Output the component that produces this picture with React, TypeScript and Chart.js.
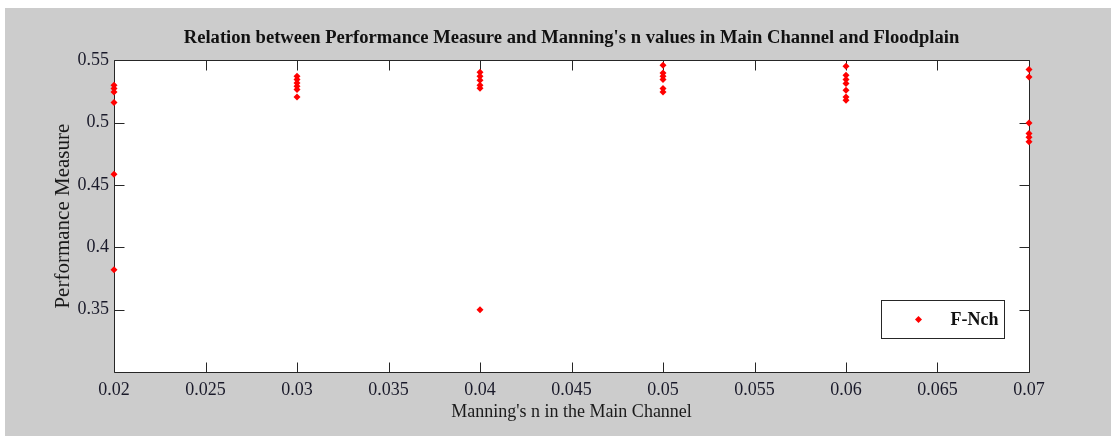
import React, { useEffect, useRef } from "react";
import { Chart, registerables } from "chart.js";

Chart.register(...registerables);

// Manning's n in the main channel (x categories)
const channelN = [0.02, 0.03, 0.04, 0.05, 0.06, 0.07];

// Performance measure values observed at each n
const perfAt002 = [0.53, 0.5274, 0.5246, 0.5162, 0.4586, 0.382];
const perfAt003 = [0.5372, 0.5346, 0.5318, 0.5292, 0.5266, 0.5206];
const perfAt004 = [0.5404, 0.5372, 0.534, 0.53, 0.5276, 0.35];
const perfAt005 = [0.546, 0.5398, 0.5372, 0.5346, 0.5274, 0.5246];
const perfAt006 = [0.5452, 0.538, 0.5346, 0.5314, 0.526, 0.5206, 0.518];
const perfAt007 = [0.5426, 0.5366, 0.4998, 0.4914, 0.4882, 0.4846];

const perfGroups = [perfAt002, perfAt003, perfAt004, perfAt005, perfAt006, perfAt007];

const seriesLabel = "F-Nch";
const chartTitle =
  "Relation between Performance Measure and Manning's n values in Main Channel and Floodplain";
const xTitle = "Manning's n in the Main Channel";
const yTitle = "Performance Measure";

const SERIF = '"Liberation Serif", "Times New Roman", serif';

const framePlugin = {
  id: "matlabFrame",
  beforeDatasetsDraw(chart: any) {
    const { ctx, chartArea, scales } = chart;
    const { left, right, top, bottom } = chartArea;
    const L = Math.round(left) + 0.5;
    const R = Math.round(right) + 0.5;
    const T = Math.round(top) + 0.5;
    const B = Math.round(bottom) + 0.5;
    ctx.save();
    ctx.fillStyle = "#ffffff";
    ctx.fillRect(L, T, R - L, B - T);
    ctx.strokeStyle = "#262626";
    ctx.lineWidth = 1;
    ctx.beginPath();
    ctx.rect(L, T, R - L, B - T);
    ctx.stroke();
    const tl = 10;
    ctx.beginPath();
    for (const t of scales.x.ticks) {
      const px = Math.round(scales.x.getPixelForValue(t.value)) + 0.5;
      ctx.moveTo(px, B);
      ctx.lineTo(px, B - tl);
      ctx.moveTo(px, T);
      ctx.lineTo(px, T + tl);
    }
    for (const t of scales.y.ticks) {
      const py = Math.round(scales.y.getPixelForValue(t.value)) + 0.5;
      ctx.moveTo(L, py);
      ctx.lineTo(L + tl, py);
      ctx.moveTo(R, py);
      ctx.lineTo(R - tl, py);
    }
    ctx.stroke();
    ctx.restore();
  },
};

const legendPlugin = {
  id: "insideLegend",
  afterDraw(chart: any) {
    const { ctx, chartArea } = chart;
    const ds = chart.data.datasets[0];
    const w = 123;
    const h = 38;
    const x0 = Math.round(chartArea.right - 25 - w) + 0.5;
    const y0 = Math.round(chartArea.bottom - 34 - h) + 0.5;
    ctx.save();
    ctx.fillStyle = "#ffffff";
    ctx.fillRect(x0, y0, w, h);
    ctx.strokeStyle = "#262626";
    ctx.lineWidth = 1;
    ctx.strokeRect(x0, y0, w, h);
    const cy = y0 + h / 2;
    ctx.fillStyle = ds.backgroundColor;
    const mx = x0 + 37;
    const r = 3.5;
    ctx.beginPath();
    ctx.moveTo(mx, cy - r);
    ctx.lineTo(mx + r, cy);
    ctx.lineTo(mx, cy + r);
    ctx.lineTo(mx - r, cy);
    ctx.closePath();
    ctx.fill();
    ctx.fillStyle = "#111111";
    ctx.font = `bold 18px ${SERIF}`;
    ctx.textBaseline = "middle";
    ctx.textAlign = "left";
    ctx.fillText(ds.label, x0 + 69, cy + 1);
    ctx.restore();
  },
};

export default function App() {
  const canvasRef = useRef<HTMLCanvasElement | null>(null);

  useEffect(() => {
    const canvas = canvasRef.current;
    if (!canvas) return;
    const points: { x: number; y: number }[] = [];
    channelN.forEach((n, i) => {
      perfGroups[i].forEach((v) => points.push({ x: n, y: v }));
    });

    const chart = new Chart(canvas, {
      type: "scatter",
      data: {
        datasets: [
          {
            label: seriesLabel,
            data: points,
            backgroundColor: "#ff0000",
            borderWidth: 0,
            pointStyle: "rectRot",
            pointRadius: 3.5,
            clip: false,
          } as any,
        ],
      },
      plugins: [framePlugin, legendPlugin],
      options: {
        animation: false,
        responsive: false,
        maintainAspectRatio: false,
        layout: { padding: { left: 0, right: 82, top: 0, bottom: 0 } },
        plugins: {
          legend: { display: false },
          tooltip: { enabled: false },
          title: {
            display: true,
            text: chartTitle,
            fullSize: false,
            color: "#111111",
            font: { family: SERIF, size: 18.6, weight: "bold" },
            padding: { top: 19, bottom: 11 },
          },
        },
        scales: {
          x: {
            type: "linear",
            min: 0.02,
            max: 0.07,
            grid: { display: false, drawTicks: false },
            border: { display: false },
            ticks: {
              stepSize: 0.005,
              padding: 7,
              color: "#1a1a2a",
              font: { family: SERIF, size: 18 },
              maxRotation: 0,
              autoSkip: false,
              callback: (v: any) => String(+Number(v).toFixed(4)),
            },
            title: {
              display: true,
              text: xTitle,
              color: "#1a1a1a",
              font: { family: SERIF, size: 18 },
              padding: { top: 0, bottom: 13 },
            },
            afterFit: (s: any) => {
              s.height = 64;
            },
          },
          y: {
            type: "linear",
            min: 0.3,
            max: 0.55,
            grid: { display: false, drawTicks: false },
            border: { display: false },
            afterBuildTicks: (s: any) => {
              s.ticks = s.ticks.filter((t: any) => t.value > 0.31);
            },
            ticks: {
              stepSize: 0.05,
              padding: 5,
              color: "#1a1a2a",
              font: { family: SERIF, size: 18 },
              callback: (v: any) => String(+Number(v).toFixed(3)),
            },
            title: {
              display: true,
              text: yTitle,
              color: "#1a1a1a",
              font: { family: SERIF, size: 21 },
              padding: { top: 46, bottom: 0 },
            },
            afterFit: (s: any) => {
              s.width = 109;
            },
          },
        },
      },
    });
    return () => chart.destroy();
  }, []);

  return (
    <div
      style={{
        position: "absolute",
        left: 5,
        top: 8,
        width: 1106,
        height: 428,
        background: "#cccccc",
      }}
    >
      <canvas ref={canvasRef} width={1106} height={428} style={{ display: "block", width: 1106, height: 428 }} />
    </div>
  );
}
